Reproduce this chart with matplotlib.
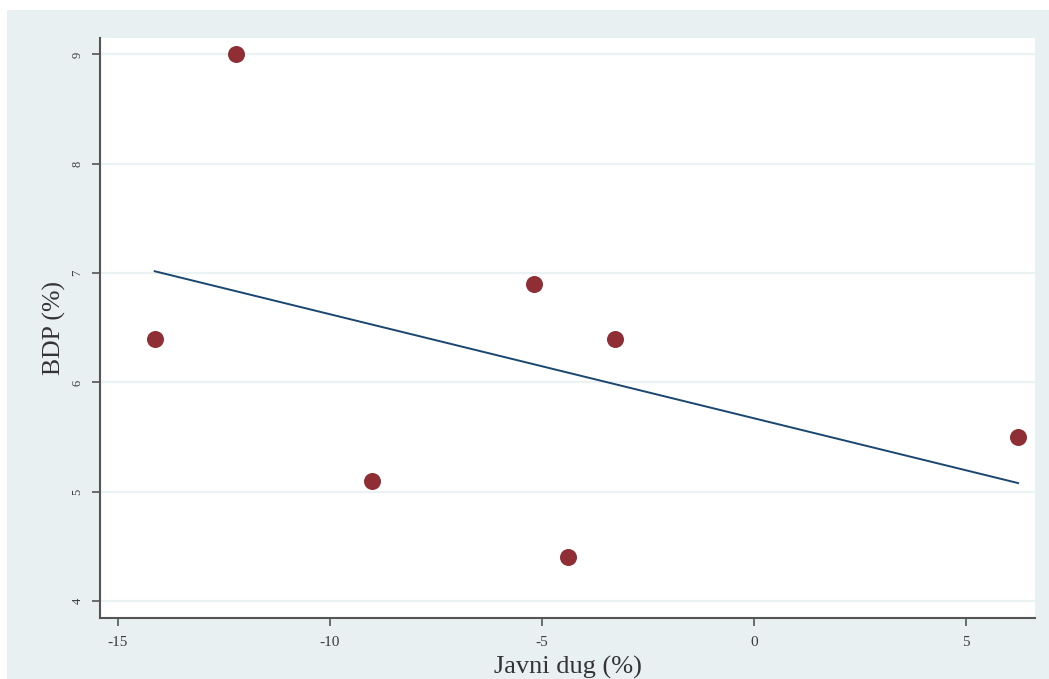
import numpy as np
import matplotlib
matplotlib.use('Agg')
import matplotlib.pyplot as plt
from matplotlib.patches import Rectangle

# public debt change vs GDP growth
javni_dug = [-14.13, -12.22, -9.01, -5.19, -4.39, -3.28, 6.23]
bdp = [6.4, 9.0, 5.1, 6.9, 4.4, 6.4, 5.5]
x_ticks = [-15, -10, -5, 0, 5]
y_ticks = [4, 5, 6, 7, 8, 9]

plt.rcParams['font.family'] = ['Liberation Serif', 'DejaVu Serif']
plt.rcParams['axes.unicode_minus'] = False

fig = plt.figure(figsize=(10.49, 6.79), dpi=100)
fig.patch.set_facecolor('white')
# grey-blue panel behind the plot region
fig.add_artist(Rectangle((7 / 1049, 0), 1 - 7 / 1049, 1 - 10 / 679,
                         transform=fig.transFigure, facecolor='#e9f0f2',
                         edgecolor='none', zorder=-10))

ax = fig.add_axes([100 / 1049, 1 - 618 / 679, 935 / 1049, 580 / 679])
ax.set_facecolor('white')

x = np.array(javni_dug)
y = np.array(bdp)
slope, intercept = np.polyfit(x, y, 1)
xs = np.array([x.min(), x.max()])

for t in y_ticks:
    ax.axhline(t, color='#eaf2f3', lw=1.6, zorder=1)
ax.scatter(x, y, s=150, color='#8f2e34', zorder=3, linewidths=0)
ax.plot(xs, intercept + slope * xs, color='#1a476f', lw=1.4, zorder=2)

ax.set_xlim(-15.42, 6.63)
ax.set_ylim(3.845, 9.15)
ax.set_xticks(x_ticks)
ax.set_yticks(y_ticks)
ax.tick_params(axis='both', direction='out', length=6, width=1.2,
               color='#555555', labelcolor='#3c3c3c', pad=6)
ax.tick_params(axis='x', labelsize=11, pad=7)
ax.tick_params(axis='y', labelsize=9)
for lab in ax.get_yticklabels():
    lab.set_rotation(90)
    lab.set_va('center')

for side in ['top', 'right']:
    ax.spines[side].set_visible(False)
for side in ['left', 'bottom']:
    ax.spines[side].set_color('#555555')
    ax.spines[side].set_linewidth(1.5)

ax.set_xlabel('Javni dug (%)', fontsize=19, color='#333333', labelpad=5)
ax.set_ylabel('BDP (%)', fontsize=18.5, color='#333333', labelpad=4)

fig.savefig('out.png', dpi=100)
